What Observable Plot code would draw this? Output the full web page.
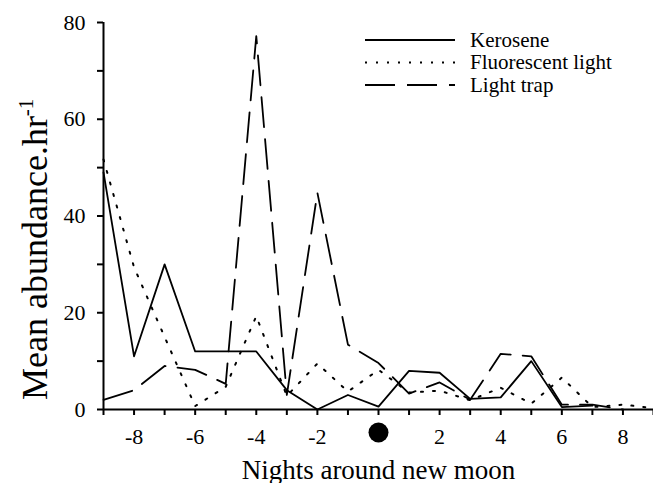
<!DOCTYPE html>
<html>
<head>
<meta charset="utf-8">
<script src="https://cdn.jsdelivr.net/npm/d3@7"></script>
<script src="https://cdn.jsdelivr.net/npm/@observablehq/plot@0.6"></script>
<style>
  html, body { margin: 0; padding: 0; background: #fff; }
  #chart svg { display: block; }
  #chart svg, #chart svg text, #chart svg tspan { font-family: "Liberation Serif", "Times New Roman", Times, "DejaVu Serif", serif !important; }
</style>
</head>
<body>
<div id="chart"></div>
<script>
// Nights around new moon (x)
const nights = [-9, -8, -7, -6, -5, -4, -3, -2, -1, 0, 1, 2, 3, 4, 5, 6, 7, 8, 9];
// Mean abundance per hour
const kerosene    = [49, 11, 30, 12, 12, 12, 4, 0, 3, 0.6, 8, 7.6, 2.2, 2.5, 10, 0.5, 0.8];
const fluorescent = [51.7, 29.4, 15, 0.7, 4.7, 19.3, 2.8, 9.5, 3.7, 8.2, 3.5, 3.9, 1.9, 4.5, 1.2, 6.6, 0.5, 1, 0.3];
const lightTrap   = [2, 4, 9, 8.2, 5.3, 77.2, 3, 44.8, 13.4, 9.6, 3.3, 5.6, 2, 11.5, 11, 1, 1, 0];
const seriesNames = ["Kerosene", "Fluorescent light", "Light trap"];
const xTicks = [-9, -8, -7, -6, -5, -4, -3, -2, -1, 0, 1, 2, 3, 4, 5, 6, 7, 8, 9];
const yTicks = [0, 10, 20, 30, 40, 50, 60, 70, 80];
const xTitle = "Nights around new moon";
const yTitle = "Mean abundance.hr";
const yTitleSup = "-1";

const toRows = (vals) => vals.map((v, i) => ({x: nights[i], y: v}));

const font = "\"Liberation Serif\", \"Times New Roman\", Times, \"DejaVu Serif\", serif";

const plot = Plot.plot({
  width: 653,
  height: 483,
  marginLeft: 103,
  marginRight: 0,
  marginTop: 22,
  marginBottom: 74,
  style: {fontFamily: font, background: "#fff", color: "#000", overflow: "visible"},
  x: {domain: [-9, 9]},
  y: {domain: [0, 80]},
  marks: [
    Plot.line(toRows(kerosene), {x: "x", y: "y", stroke: "#000", strokeWidth: 1.8}),
    Plot.line(toRows(fluorescent), {x: "x", y: "y", stroke: "#000", strokeWidth: 2, strokeDasharray: "2,10", strokeLinejoin: "miter"}),
    Plot.line(toRows(lightTrap), {x: "x", y: "y", stroke: "#000", strokeWidth: 1.8, strokeDasharray: "30,12"}),
    Plot.ruleY([0], {stroke: "#000", strokeWidth: 2}),
    Plot.ruleX([-9], {y1: 0, y2: 80, stroke: "#000", strokeWidth: 2}),
    Plot.axisX({
      ticks: xTicks, tickSize: 6, tickPadding: 13, fontSize: 22, strokeWidth: 2,
      tickFormat: d => (d % 2 === 0 && d !== 0) ? String(d) : "", label: null
    }),
    Plot.axisY({
      ticks: yTicks, tickSize: 6, tickPadding: 12, fontSize: 22, strokeWidth: 2,
      tickFormat: d => d % 20 === 0 ? String(d) : "", label: null
    }),
    Plot.dot([0], {x: d => d, frameAnchor: "bottom", dy: 23, r: 10, fill: "#000", stroke: "none"}),
    Plot.text([xTitle], {frameAnchor: "bottom", dy: 69, lineAnchor: "bottom", fontSize: 27, text: d => d, fill: "#000"})
  ]
});

document.getElementById("chart").appendChild(plot);

const svg = d3.select(plot);

// Y-axis title with superscript
const yt = svg.append("text")
  .attr("transform", "translate(47,400) rotate(-90)")
  .attr("text-anchor", "start")
  .attr("font-size", 36)
  .attr("fill", "#000");
yt.append("tspan").text(yTitle);
yt.append("tspan").attr("font-size", 21).attr("dy", -14).text(yTitleSup);

// Legend
const legend = svg.append("g").attr("font-size", 21).attr("text-anchor", "start");
const legendStyles = [
  {dash: null, width: 1.8},
  {dash: "2,9", width: 2},
  {dash: "30,12", width: 1.8}
];
seriesNames.forEach((name, i) => {
  const y = 40 + i * 22.5;
  legend.append("line")
    .attr("x1", 365).attr("x2", 455).attr("y1", y).attr("y2", y)
    .attr("stroke", "#000").attr("stroke-width", legendStyles[i].width)
    .attr("stroke-dasharray", legendStyles[i].dash);
  legend.append("text").attr("x", 470).attr("y", y + 6.5).attr("fill", "#000").text(name);
});
</script>
</body>
</html>
